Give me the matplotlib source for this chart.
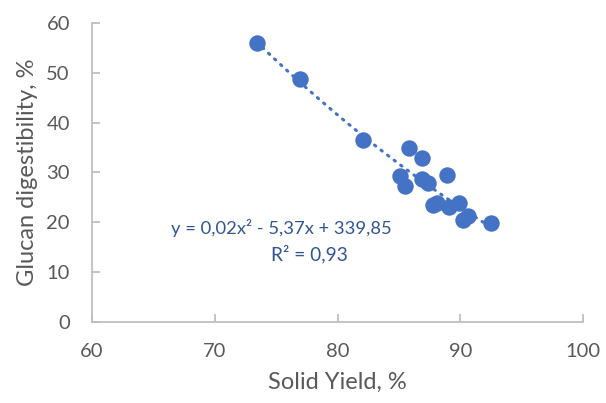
import matplotlib
matplotlib.use('Agg')
import matplotlib.pyplot as plt
import numpy as np

# dados: rendimento em sólidos vs digestibilidade do glucano
solid_yield = [73.4, 76.9, 82.1, 85.8, 86.9, 85.1, 85.5, 86.9, 87.4, 88.9,
               87.8, 88.1, 89.1, 89.9, 90.2, 90.6, 92.5]
glucan_dig = [56.0, 48.8, 36.6, 35.0, 33.0, 29.3, 27.2, 28.7, 27.8, 29.4,
              23.4, 23.9, 23.0, 23.8, 20.5, 21.2, 19.8]

eq_text = 'y = 0,02x² - 5,37x + 339,85'
r2_text = 'R² = 0,93'

blue = '#4472C4'
grey = '#595959'
axis_grey = '#BFBFBF'

plt.rcParams['font.family'] = ['Lato', 'DejaVu Sans']

fig = plt.figure(figsize=(6.06, 4.03), dpi=100)
ax = fig.add_axes([0.152, 0.201, 0.810, 0.742])

ax.scatter(solid_yield, glucan_dig, s=140, color=blue, zorder=3, linewidths=0)

# linha de tendência polinomial de ordem 2
coef = np.polyfit(solid_yield, glucan_dig, 2)
xs = np.linspace(min(solid_yield), max(solid_yield), 200)
ax.plot(xs, np.polyval(coef, xs), color=blue, lw=2.2, ls=(0, (0.5, 2.2)),
        dash_capstyle='round', zorder=4)

ax.text(0.385, 0.314, eq_text, transform=ax.transAxes, color='#2F5597',
        fontsize=13.2, ha='center', va='center')
ax.text(0.442, 0.227, r2_text, transform=ax.transAxes, color='#2F5597',
        fontsize=13.8, ha='center', va='center')

ax.set_xlim(60, 100)
ax.set_ylim(0, 60)
ax.set_xticks(range(60, 101, 10))
ax.set_yticks(range(0, 61, 10))

for s in ['top', 'right']:
    ax.spines[s].set_visible(False)
for s in ['left', 'bottom']:
    ax.spines[s].set_color(axis_grey)
    ax.spines[s].set_linewidth(1.3)

ax.tick_params(direction='in', length=6, width=1.3, color=axis_grey,
               labelcolor=grey, labelsize=14.5)
ax.tick_params(axis='y', pad=16)
ax.tick_params(axis='x', pad=15)

ax.set_xlabel('Solid Yield, %', fontsize=17, color=grey, labelpad=9)
ax.set_ylabel('Glucan digestibility, %', fontsize=17, color=grey, labelpad=6)

fig.savefig('out.png', dpi=100)
